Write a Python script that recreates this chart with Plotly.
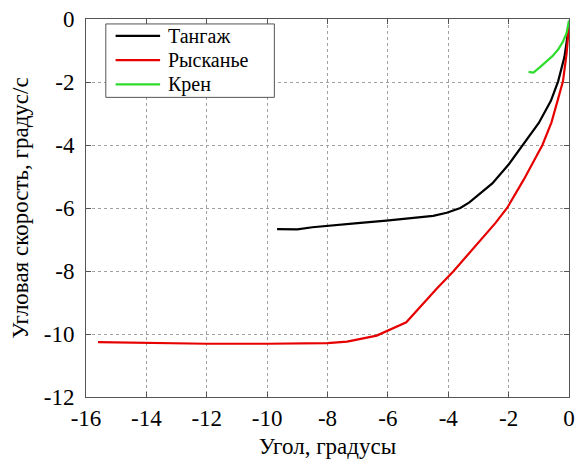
import plotly.graph_objects as go

# Angular rate vs. angle for the three rotation channels
pitch_x = [-9.67, -9.0, -8.5, -8.0, -7.0, -6.05, -4.95, -4.5, -4.05, -3.6, -3.3, -2.9,
           -2.54, -2.0, -1.52, -1.0, -0.6, -0.36, -0.15, -0.03, 0.0]
pitch_y = [-6.67, -6.68, -6.61, -6.56, -6.48, -6.40, -6.30, -6.25, -6.15, -6.0, -5.82, -5.5,
           -5.22, -4.62, -4.0, -3.3, -2.6, -1.98, -1.2, -0.5, -0.2]

yaw_x = [-15.6, -14.0, -12.0, -10.0, -8.0, -7.35, -6.9, -6.37, -5.39, -4.95, -4.4, -3.82,
         -3.1, -2.44, -2.05, -1.5, -0.88, -0.58, -0.38, -0.2, -0.08, -0.03, 0.0]
yaw_y = [-10.26, -10.28, -10.31, -10.31, -10.29, -10.24, -10.16, -10.05, -9.63, -9.16, -8.58, -8.0,
         -7.22, -6.48, -6.0, -5.1, -4.0, -3.28, -2.6, -1.98, -1.1, -0.55, -0.2]

roll_x = [-1.34, -1.18, -0.95, -0.79, -0.55, -0.36, -0.2, -0.08, 0.0]
roll_y = [-1.68, -1.70, -1.52, -1.39, -1.18, -0.97, -0.72, -0.44, -0.05]

series_names = ["Тангаж", "Рысканье", "Крен"]
series_colors = ["#000000", "#e60000", "#2edc2e"]

x_ticks = [-16, -14, -12, -10, -8, -6, -4, -2, 0]
y_ticks = [-12, -10, -8, -6, -4, -2, 0]

FONT = "Liberation Serif, Times New Roman, serif"

fig = go.Figure()
for xs, ys, name, color in zip([pitch_x, yaw_x, roll_x], [pitch_y, yaw_y, roll_y],
                               series_names, series_colors):
    fig.add_trace(go.Scatter(x=xs, y=ys, mode="lines", name=name,
                             line=dict(color=color, width=2.2), showlegend=False))

axis_common = dict(
    showline=True, linecolor="#555555", linewidth=1, mirror="ticks",
    ticks="inside", ticklen=5, tickcolor="#555555",
    showgrid=True, gridcolor="#a0a0a0", gridwidth=1, griddash="dot",
    zeroline=False, tickfont=dict(family=FONT, size=23, color="#000000"),
)

fig.update_xaxes(range=[-16, 0], tickvals=x_ticks, ticktext=[str(v) for v in x_ticks],
                 ticklabelstandoff=0,
                 title=dict(text="Угол, градусы", font=dict(family=FONT, size=23, color="#000"),
                            standoff=8),
                 **axis_common)
fig.update_yaxes(range=[-12, 0], tickvals=y_ticks, ticktext=[str(v) for v in y_ticks],
                 ticklabelstandoff=6,
                 title=dict(text="Угловая скорость, градус/с",
                            font=dict(family=FONT, size=23, color="#000"), standoff=8),
                 **axis_common)

# Legend panel drawn in paper coordinates
fig.add_shape(type="rect", xref="paper", yref="paper", x0=0.041, x1=0.39, y0=0.7927, y1=0.9869,
              line=dict(color="#555555", width=1), fillcolor="white", layer="above")
row_y = [0.9554, 0.8911, 0.8268]
for name, color, yy in zip(series_names, series_colors, row_y):
    fig.add_shape(type="line", xref="paper", yref="paper", x0=0.0613, x1=0.1534, y0=yy, y1=yy,
                  line=dict(color=color, width=2.2), layer="above")
    fig.add_annotation(xref="paper", yref="paper", x=0.1677, y=yy, text=name,
                       showarrow=False, xanchor="left", yanchor="middle", borderpad=0,
                       font=dict(family=FONT, size=20, color="#000"))

fig.update_layout(
    width=582, height=464,
    margin=dict(l=86, r=7, t=16, b=67),
    paper_bgcolor="white", plot_bgcolor="white",
    font=dict(family=FONT, color="#000"),
)

fig.write_html("out.html")
